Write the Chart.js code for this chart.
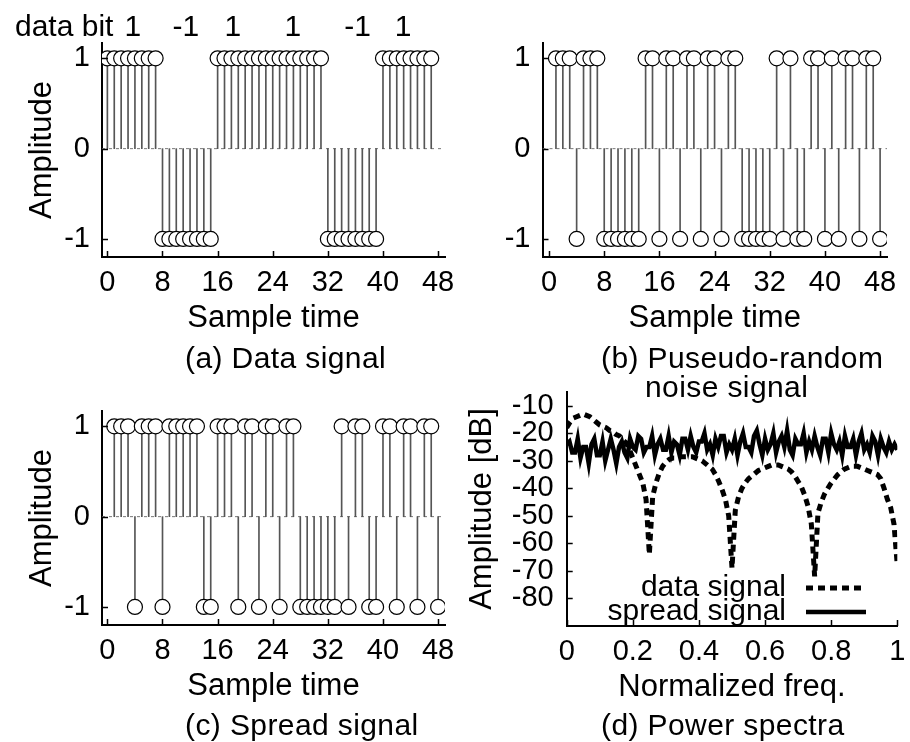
<!DOCTYPE html>
<html><head><meta charset="utf-8">
<script src="https://cdn.jsdelivr.net/npm/chart.js"></script>
<style>
html,body{margin:0;padding:0;background:#fff;}
#wrap{position:relative;width:910px;height:742px;overflow:hidden;font-family:"Liberation Sans",Arial,sans-serif;color:#000;}
canvas{position:absolute;left:0;top:0;}
.t{position:absolute;font-size:30px;line-height:30px;white-space:nowrap;letter-spacing:0.4px;}
.b{letter-spacing:0;}
.c{transform:translateX(-50%);}
</style></head><body>
<div id="wrap">
<canvas id="ca" width="910" height="742"></canvas>
<canvas id="cb" width="910" height="742"></canvas>
<canvas id="cc" width="910" height="742"></canvas>
<canvas id="cd" width="910" height="742"></canvas>
<div id="bits"></div>
<div class="t" style="left:185px;top:343px">(a) Data signal</div>
<div class="t" style="left:601px;top:343px">(b) Puseudo-random</div>
<div class="t" style="left:645px;top:372px">noise signal</div>
<div class="t" style="left:185px;top:710px">(c) Spread signal</div>
<div class="t" style="left:601px;top:710px">(d) Power spectra</div>
</div>
<script>
// ---------- data ----------
const sampleTimeA = [0,1,2,3,4,5,6,7,8,9,10,11,12,13,14,15,16,17,18,19,20,21,22,23,24,25,26,27,28,29,30,31,32,33,34,35,36,37,38,39,40,41,42,43,44,45,46,47];
const sampleTimeBC = [1,2,3,4,5,6,7,8,9,10,11,12,13,14,15,16,17,18,19,20,21,22,23,24,25,26,27,28,29,30,31,32,33,34,35,36,37,38,39,40,41,42,43,44,45,46,47,48];
const dataSignal = [1,1,1,1,1,1,1,1, -1,-1,-1,-1,-1,-1,-1,-1, 1,1,1,1,1,1,1,1, 1,1,1,1,1,1,1,1, -1,-1,-1,-1,-1,-1,-1,-1, 1,1,1,1,1,1,1,1];
const pnSignal = [1,1,1,-1,1,1,1,-1, -1,-1,-1,-1,-1,1,1,-1, 1,1,-1,1,1,-1,1,1, -1,1,1,-1,-1,-1,-1,-1, 1,-1,1,-1,-1,1,1,-1, 1,-1,1,1,-1,1,1,-1];
const spreadSignal = [1,1,1,-1,1,1,1,-1, 1,1,1,1,1,-1,-1,1, 1,1,-1,1,1,-1,1,1, -1,1,1,-1,-1,-1,-1,-1, -1,1,-1,1,1,-1,-1,1, 1,-1,1,1,-1,1,1,-1];
const dataBits = ['1','-1','1','1','-1','1'];
const timeTicks = [0,8,16,24,32,40,48];
const timeTickLabels = ['0','8','16','24','32','40','48'];
const ampTicks = [-1,0,1];
const ampTickLabels = ['-1','0','1'];
const freqTicks = [0,0.2,0.4,0.6,0.8,1];
const freqTickLabels = ['0','0.2','0.4','0.6','0.8','1'];
const dbTicks = [-80,-70,-60,-50,-40,-30,-20,-10];
const dbTickLabels = ['-80','-70','-60','-50','-40','-30','-20','-10'];
const specLabels = ['data signal','spread signal'];
// spectrum of data signal, read every 0.01 of normalized frequency
const specDataDB = [-18,-16,-14.5,-14,-13.5,-13,-13.5,-14,-15,-16,
 -17,-17.5,-18,-19,-19.5,-20.5,-21,-22.5,-23.5,-26,
 -29,-32,-35,-38,-44,-64,-43,-38,-34.5,-32,
 -30.5,-29.5,-29,-29,-28.5,-28.5,-28.5,-28.5,-28.5,-29,
 -29.5,-30,-31,-32,-33,-35,-37.5,-40.5,-44,-50,
 -69,-48,-43,-40,-38,-36.5,-35.5,-34.5,-33.5,-33,
 -32.5,-32,-31.5,-31.5,-31.5,-32,-32.5,-33,-34,-35.5,
 -37.5,-39.5,-42.5,-46.5,-53,-72,-49,-45,-42,-40,
 -38,-36.5,-35,-34,-33,-32.5,-32,-32,-32,-32.5,
 -33,-33.5,-34,-34.5,-35,-36.5,-40,-44,-47,-53,-68];
// spectrum of spread signal, read every 1/120 of normalized frequency
const specSpreadDB = [-24,-23,-27,-27,-22,-29,-25,-25,-31,-24,
 -22,-28,-28,-23,-30,-26,-22,-26,-31,-25,
 -23,-27,-29,-22,-25,
 -26,-21,-22,-27,-25,-25,-21,-28,-24,-22,
 -26,-26,-21,-27,-23,-24,-28,-22,-22,-26,
 -21,-25,-27,-23,-23,-20,-26,-24,-28,-22,
 -25,-21,-21,-27,-24,-26,-22,-28,-23,-20,
 -25,-25,-27,-21,-19,-24,-28,-22,-26,-24,
 -20,-27,-23,-21,-25,-19,-26,-28,-22,-24,
 -24,-20,-27,-23,-26,-21,-25,-28,-22,-22,
 -27,-20,-24,-26,-23,-28,-21,-25,-25,-22,
 -28,-23,-20,-26,-24,-27,-21,-23,-28,-22,
 -25,-27,-23,-26,-24,-26];
const specFreqData = specDataDB.map((_, i) => i / 100);
const specFreqSpread = specSpreadDB.map((_, i) => i / 120);

// ---------- helpers ----------
const FONT = '"Liberation Sans", Arial, sans-serif';
Chart.defaults.color = '#000';
Chart.defaults.font.family = FONT;
const W = 910, H = 742, XH = 80;
const TICK = 29, TITLE = 31;
function fixTicks(vals){ return s => { s.ticks = vals.map(v => ({value: v})); }; }
function fitW(w){ return s => { s.width = w; s.paddingTop = 0; s.paddingBottom = 0; s.paddingLeft = 0; s.paddingRight = 0; }; }
function fitH(h){ return s => { s.height = h; s.paddingTop = 0; s.paddingBottom = 0; s.paddingLeft = 0; s.paddingRight = 0; }; }
const innerTicks = {
  id: 'innerTicks',
  afterDraw(chart){
    const {ctx, chartArea: a, scales: {x, y}} = chart;
    ctx.save(); ctx.strokeStyle = '#000'; ctx.lineWidth = 1.5; ctx.beginPath();
    x.ticks.forEach(t => { const p = Math.round(x.getPixelForValue(t.value)) + 0.5; ctx.moveTo(p, a.bottom); ctx.lineTo(p, a.bottom - 6); });
    y.ticks.forEach(t => { const p = Math.round(y.getPixelForValue(t.value)) + 0.5; ctx.moveTo(a.left, p); ctx.lineTo(a.left + 6, p); });
    ctx.stroke(); ctx.restore();
  }
};
const gnuLegend = {
  id: 'gnuLegend',
  afterDatasetsDraw(chart, args, o){
    if (!o || !o.show) return;
    const ctx = chart.ctx;
    chart.data.datasets.forEach((ds, i) => {
      const y = o.y + i * o.dy;
      ctx.save();
      ctx.font = o.size + 'px ' + FONT; ctx.fillStyle = '#000'; ctx.textAlign = 'right'; ctx.textBaseline = 'middle';
      ctx.fillText(ds.label, o.textRight, y);
      ctx.strokeStyle = ds.borderColor; ctx.lineWidth = ds.borderWidth; ctx.setLineDash(ds.borderDash || []);
      ctx.beginPath(); ctx.moveTo(o.x0, y); ctx.lineTo(o.x1, y); ctx.stroke();
      ctx.restore();
    });
  }
};
function axisBase(){
  return { grid: {display: false, drawTicks: false}, border: {display: true, color: '#000', width: 2} };
}
function stemChart(id, xs, ys, area, yW, xMin, yTitle){
  const pts = xs.map((x, i) => ({x: x, y: ys[i]}));
  return new Chart(document.getElementById(id), {
    type: 'bar',
    data: { datasets: [
      {type: 'scatter', data: pts, showLine: false, pointRadius: 7.5, pointHoverRadius: 7.5, pointBorderWidth: 1.2, pointBorderColor: '#000', pointBackgroundColor: '#fff', order: 0},
      {type: 'bar', data: pts, backgroundColor: '#555', barThickness: 1, borderWidth: 0, order: 1},
      {type: 'line', data: [{x: xMin, y: 0}, {x: 49, y: 0}], borderColor: '#777', borderWidth: 1, borderDash: [3, 4], pointRadius: 0, order: 2}
    ]},
    options: {
      responsive: false, animation: false, devicePixelRatio: 1, events: [],
      layout: {padding: {left: area.l - yW, top: area.t, right: W - area.r, bottom: H - area.b - XH}},
      plugins: {legend: {display: false}, tooltip: {enabled: false}, title: {display: false}},
      scales: {
        x: Object.assign(axisBase(), {type: 'linear', min: xMin, max: 49, offset: false,
          afterBuildTicks: fixTicks(timeTicks), afterFit: fitH(XH),
          ticks: {autoSkip: false, maxRotation: 0, padding: 9, font: {size: TICK}, callback: (v, i) => timeTickLabels[i]},
          title: {display: true, text: 'Sample time', font: {size: TITLE}, padding: 0}}),
        y: Object.assign(axisBase(), {type: 'linear', min: -1.2, max: 1.17,
          afterBuildTicks: fixTicks(ampTicks), afterFit: fitW(yW),
          ticks: {autoSkip: false, padding: 12, font: {size: TICK}, callback: (v, i) => ampTickLabels[i]},
          title: {display: !!yTitle, text: yTitle || '', font: {size: TITLE}, padding: 0}})
      }
    },
    plugins: [innerTicks]
  });
}
const chartA = stemChart('ca', sampleTimeA, dataSignal, {l: 102, r: 445, t: 43, b: 257}, 78, -0.78, 'Amplitude');
stemChart('cb', sampleTimeBC, pnSignal, {l: 542.5, r: 887, t: 43, b: 257}, 60, -0.95, '');
stemChart('cc', sampleTimeBC, spreadSignal, {l: 102, r: 445, t: 411, b: 625}, 78, -0.78, 'Amplitude');

// ---------- power spectra ----------
const areaD = {l: 566.7, r: 897.3, t: 392, b: 626}, yWD = 103;
new Chart(document.getElementById('cd'), {
  type: 'line',
  data: { datasets: [
    {label: specLabels[0], data: specFreqData.map((f, i) => ({x: f, y: specDataDB[i]})), borderColor: '#000', borderWidth: 5, borderDash: [7, 5], pointRadius: 0, tension: 0},
    {label: specLabels[1], data: specFreqSpread.map((f, i) => ({x: f, y: specSpreadDB[i]})), borderColor: '#000', borderWidth: 4.5, pointRadius: 0, tension: 0}
  ]},
  options: {
    responsive: false, animation: false, devicePixelRatio: 1, events: [],
    layout: {padding: {left: areaD.l - yWD, top: areaD.t, right: W - areaD.r, bottom: H - areaD.b - XH}},
    plugins: {legend: {display: false}, tooltip: {enabled: false}, title: {display: false},
      gnuLegend: {show: true, textRight: 786, x0: 806, x1: 866, y: 588, dy: 24, size: 30}},
    scales: {
      x: Object.assign(axisBase(), {type: 'linear', min: 0, max: 1,
        afterBuildTicks: fixTicks(freqTicks), afterFit: fitH(XH),
        ticks: {autoSkip: false, maxRotation: 0, padding: 9, font: {size: TICK}, callback: (v, i) => freqTickLabels[i]},
        title: {display: true, text: 'Normalized freq.', font: {size: TITLE}, padding: 0}}),
      y: Object.assign(axisBase(), {type: 'linear', min: -90, max: -5,
        afterBuildTicks: fixTicks(dbTicks), afterFit: fitW(yWD),
        ticks: {autoSkip: false, padding: 13, font: {size: TICK}, callback: (v, i) => dbTickLabels[i]},
        title: {display: true, text: 'Amplitude [dB]', font: {size: TITLE}, padding: 0}})
    }
  },
  plugins: [innerTicks, gnuLegend]
});

// ---------- data bit row (positioned from panel (a) x scale) ----------
(function(){
  const wrap = document.getElementById('bits');
  const lab = document.createElement('div');
  lab.className = 't b'; lab.style.left = '15px'; lab.style.top = '11px'; lab.textContent = 'data bit';
  wrap.appendChild(lab);
  const xs = chartA.scales.x;
  const bitCentre = [3.7, 11.4, 18.2, 26.9, 36.3, 42.9];
  dataBits.forEach((b, i) => {
    const d = document.createElement('div');
    d.className = 't b c'; d.style.top = '11px';
    d.style.left = xs.getPixelForValue(bitCentre[i]) + 'px';
    d.textContent = b; wrap.appendChild(d);
  });
})();
</script>
</body></html>
